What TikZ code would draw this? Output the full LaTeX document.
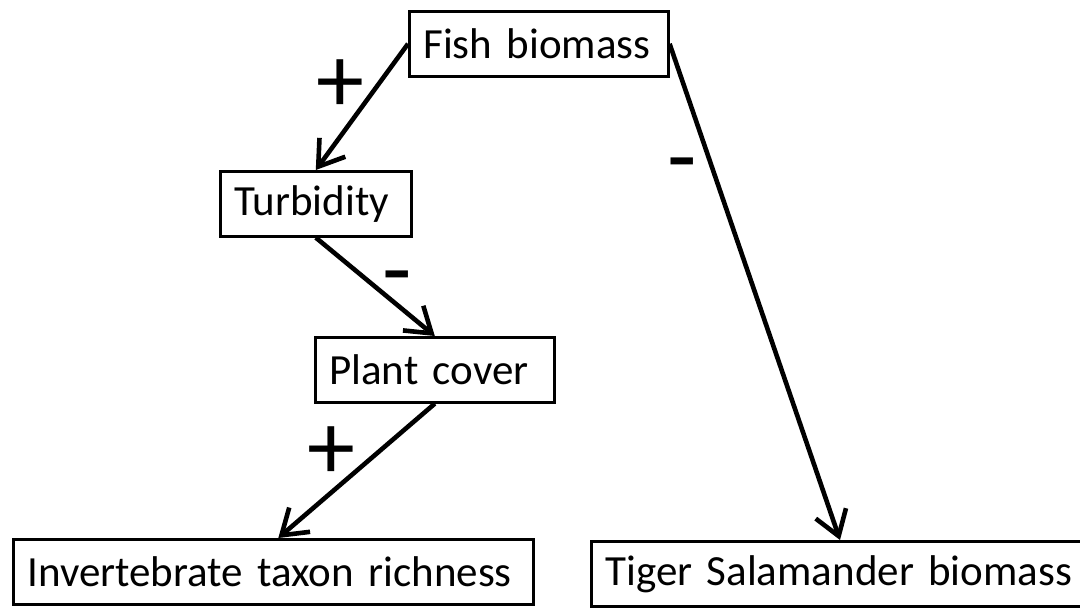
\documentclass[tikz,border=0pt]{standalone}
\usepackage{fontspec}
\setmainfont{Carlito}
\usetikzlibrary{arrows.meta}
\tikzset{box/.style={draw,line width=1.3pt,anchor=north west,align=left,inner xsep=7pt,inner ysep=0pt,minimum height=32.5pt,text width=#1,font=\fontsize{21.5}{24}\selectfont}}
\tikzset{sign/.style={inner sep=0pt,font=\fontsize{48}{48}\selectfont}}
\tikzset{link/.style={line width=2.3pt,-{Straight Barb[length=12pt,width=16pt]}}}

\begin{document}
\begin{tikzpicture}[x=0.5pt,y=-0.5pt]
	\useasboundingbox (0,0) rectangle (1080,607);
	\node[box=115.5pt] (fish) at (408,10) {Fish biomass};
	\node[box=81.5pt] (turb) at (219,170) {Turbidity};
	\node[box=105.5pt] (plant) at (314,336) {Plant cover};
	\node[box=246pt] (invert) at (12,538) {Invertebrate taxon richness};
	\node[box=260pt] (tiger) at (590,540) {Tiger Salamander biomass};

	\draw[link] (fish.west) -- (turb.north);
	\draw[link] (turb.south) -- (plant.north);
	\draw[link] (plant.south) -- ([xshift=2.5pt]invert.north);
	\draw[link] (fish.east) -- ([xshift=125pt]tiger.north west);

	\node[sign] (s1) at (340,86) {+};
	\node[sign] (s2) at (397,286) {-};
	\node[sign] (s3) at (331,453) {+};
	\node[sign] (s4) at (682,173) {-};
\end{tikzpicture}
\end{document}
